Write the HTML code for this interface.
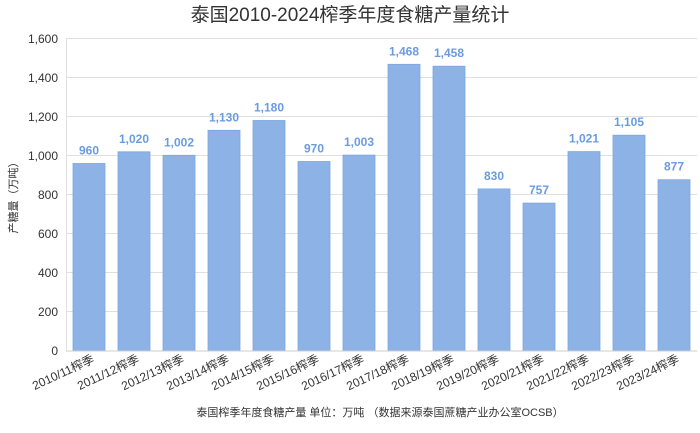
<!DOCTYPE html><html><head><meta charset="utf-8"><style>body{margin:0;background:#fff}svg text{font-family:"Liberation Sans","Noto Sans CJK SC",sans-serif}</style></head><body>
<svg width="700" height="428" xmlns="http://www.w3.org/2000/svg">
<text x="350" y="21" text-anchor="middle" font-size="19" fill="#333">泰国2010-2024榨季年度食糖产量统计</text>
<g stroke="#e0e0e0" stroke-width="1">
<line x1="66" x2="697" y1="38.5" y2="38.5"/><line x1="66" x2="697" y1="77.5" y2="77.5"/><line x1="66" x2="697" y1="116.5" y2="116.5"/><line x1="66" x2="697" y1="155.5" y2="155.5"/><line x1="66" x2="697" y1="194.5" y2="194.5"/><line x1="66" x2="697" y1="233.5" y2="233.5"/><line x1="66" x2="697" y1="272.5" y2="272.5"/><line x1="66" x2="697" y1="311.5" y2="311.5"/>
<line x1="66.5" x2="66.5" y1="38" y2="351"/>
</g>
<g font-size="12" fill="#333" text-anchor="end">
<text x="58" y="43">1,600</text><text x="58" y="82">1,400</text><text x="58" y="121">1,200</text><text x="58" y="160">1,000</text><text x="58" y="199">800</text><text x="58" y="238">600</text><text x="58" y="277">400</text><text x="58" y="316">200</text><text x="58" y="355">0</text>
</g>
<text transform="translate(17,195) rotate(-90)" text-anchor="middle" font-size="11" fill="#333">产糖量（万吨）</text>
<g fill="#8db3e6" stroke="#7aa6e0" stroke-width="0.8">
<rect x="73" y="163.5" width="32" height="187.5"/>
<rect x="118" y="151.8" width="32" height="199.2"/>
<rect x="163" y="155.3" width="32" height="195.7"/>
<rect x="208" y="130.3" width="32" height="220.7"/>
<rect x="253" y="120.5" width="32" height="230.5"/>
<rect x="298" y="161.5" width="32" height="189.5"/>
<rect x="343" y="155.1" width="32" height="195.9"/>
<rect x="388" y="64.3" width="32" height="286.7"/>
<rect x="433" y="66.2" width="32" height="284.8"/>
<rect x="478" y="188.9" width="32" height="162.1"/>
<rect x="523" y="203.1" width="32" height="147.9"/>
<rect x="568" y="151.6" width="32" height="199.4"/>
<rect x="613" y="135.2" width="32" height="215.8"/>
<rect x="658" y="179.7" width="32" height="171.3"/>
</g>
<g font-size="12" font-weight="bold" fill="#6a9be0" text-anchor="middle">
<text x="89" y="154.5">960</text>
<text x="134" y="142.8">1,020</text>
<text x="179" y="146.3">1,002</text>
<text x="224" y="121.3">1,130</text>
<text x="269" y="111.5">1,180</text>
<text x="314" y="152.5">970</text>
<text x="359" y="146.1">1,003</text>
<text x="404" y="55.3">1,468</text>
<text x="449" y="57.2">1,458</text>
<text x="494" y="179.9">830</text>
<text x="539" y="194.1">757</text>
<text x="584" y="142.6">1,021</text>
<text x="629" y="126.2">1,105</text>
<text x="674" y="170.7">877</text>
</g>
<line x1="66" x2="697" y1="351" y2="351" stroke="#ccc"/>
<g font-size="12" fill="#333" text-anchor="end">
<text transform="translate(95,362) rotate(-25)">2010/11榨季</text>
<text transform="translate(140,362) rotate(-25)">2011/12榨季</text>
<text transform="translate(185,362) rotate(-25)">2012/13榨季</text>
<text transform="translate(230,362) rotate(-25)">2013/14榨季</text>
<text transform="translate(275,362) rotate(-25)">2014/15榨季</text>
<text transform="translate(320,362) rotate(-25)">2015/16榨季</text>
<text transform="translate(365,362) rotate(-25)">2016/17榨季</text>
<text transform="translate(410,362) rotate(-25)">2017/18榨季</text>
<text transform="translate(455,362) rotate(-25)">2018/19榨季</text>
<text transform="translate(500,362) rotate(-25)">2019/20榨季</text>
<text transform="translate(545,362) rotate(-25)">2020/21榨季</text>
<text transform="translate(590,362) rotate(-25)">2021/22榨季</text>
<text transform="translate(635,362) rotate(-25)">2022/23榨季</text>
<text transform="translate(680,362) rotate(-25)">2023/24榨季</text>
</g>
<text x="380" y="416" text-anchor="middle" font-size="11" fill="#333">泰国榨季年度食糖产量  单位：万吨  （数据来源泰国蔗糖产业办公室OCSB）</text>
</svg></body></html>
